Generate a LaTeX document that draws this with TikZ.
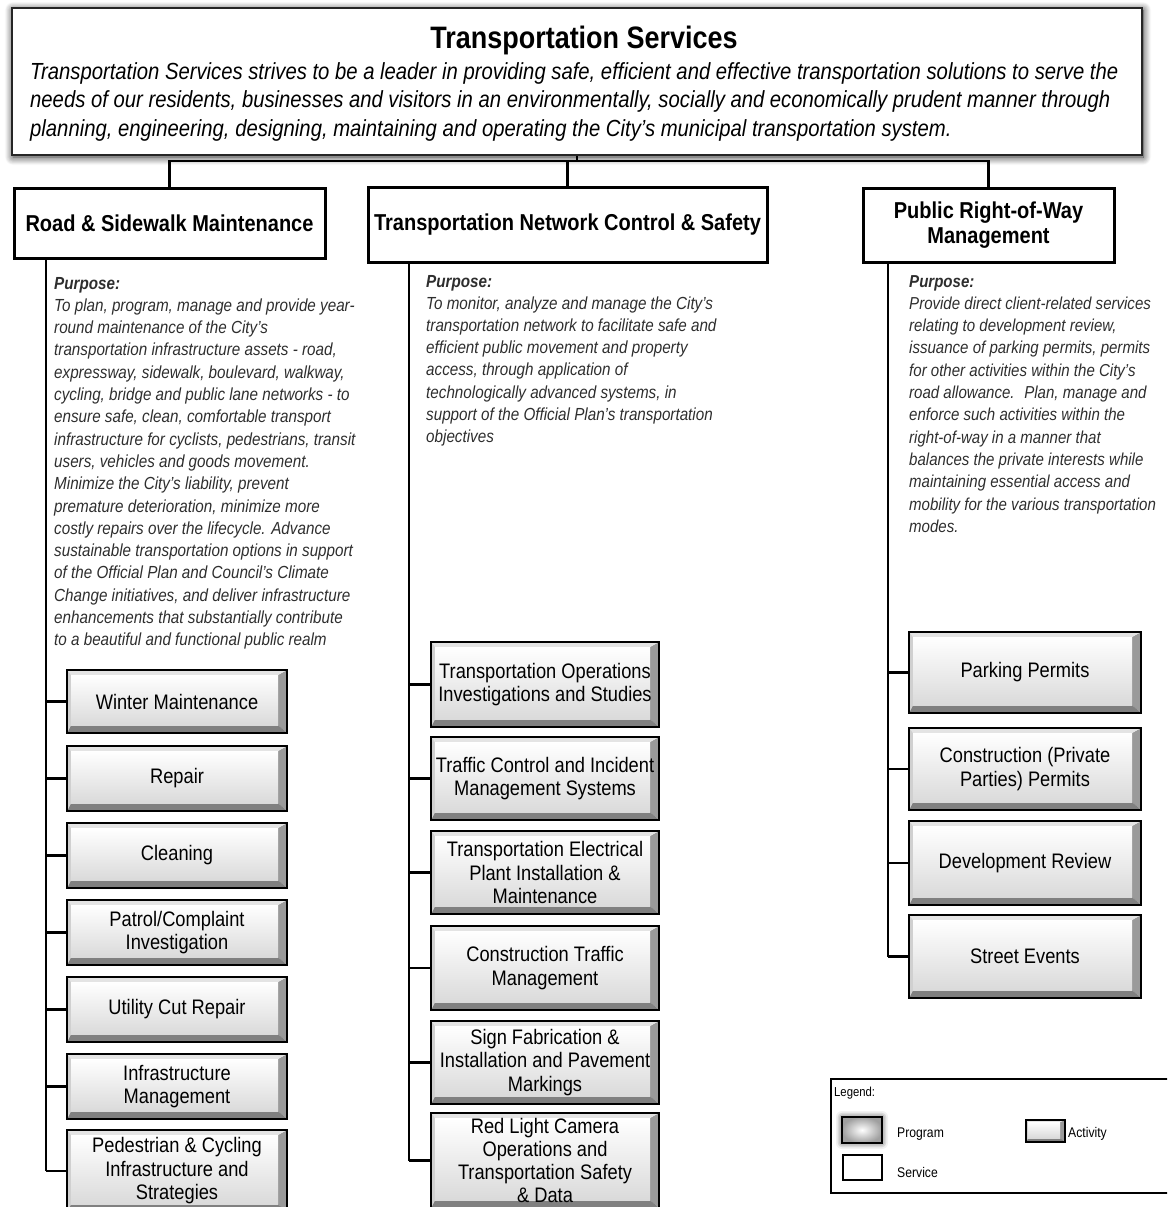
\documentclass[tikz,border=0pt]{standalone}
\usepackage{fontspec}
\setmainfont{Liberation Sans}[FakeStretch=0.87]
\usetikzlibrary{shadows.blur}
\definecolor{bevT}{HTML}{E4E4E4}
\definecolor{bevL}{HTML}{D0D0D0}
\definecolor{bevR}{HTML}{9A9A9A}
\definecolor{bevB}{HTML}{808080}
\definecolor{faceBot}{HTML}{DADADA}
\def\bvl{4pt}\def\bvt{5pt}\def\bvr{9pt}\def\bvb{8pt}
\tikzset{
  conn/.style={line width=2.6pt, black},
  svcbox/.style={draw=black, line width=3pt, fill=white, inner sep=0pt, align=center,
    font=\fontsize{23}{25}\selectfont\bfseries},
  progbox/.style={draw=black!85, line width=2.5pt, fill=white, inner sep=0pt,
    blur shadow={shadow xshift=1pt, shadow yshift=-2pt, shadow blur radius=8pt, shadow blur steps=12, shadow opacity=85}},
  actbox/.style={draw=black, line width=2pt, inner sep=0pt, align=center,
    font=\fontsize{21}{23.5}\selectfont,
    path picture={
      \fill[bevR] (path picture bounding box.north east) -- (path picture bounding box.south east)
        -- ([xshift=-\bvr,yshift=\bvb]path picture bounding box.south east)
        -- ([xshift=-\bvr,yshift=-\bvt]path picture bounding box.north east) -- cycle;
      \fill[bevB] (path picture bounding box.south west) -- (path picture bounding box.south east)
        -- ([xshift=-\bvr,yshift=\bvb]path picture bounding box.south east)
        -- ([xshift=\bvl,yshift=\bvb]path picture bounding box.south west) -- cycle;
      \fill[bevT] (path picture bounding box.north west) -- (path picture bounding box.north east)
        -- ([xshift=-\bvr,yshift=-\bvt]path picture bounding box.north east)
        -- ([xshift=\bvl,yshift=-\bvt]path picture bounding box.north west) -- cycle;
      \fill[bevL] (path picture bounding box.north west) -- (path picture bounding box.south west)
        -- ([xshift=\bvl,yshift=\bvb]path picture bounding box.south west)
        -- ([xshift=\bvl,yshift=-\bvt]path picture bounding box.north west) -- cycle;
      \shade[top color=white, bottom color=faceBot]
        ([xshift=\bvl,yshift=-\bvt]path picture bounding box.north west)
        rectangle ([xshift=-\bvr,yshift=\bvb]path picture bounding box.south east);
    }},
  colA/.style={actbox, minimum width=220pt},
  colB/.style={actbox, minimum width=228pt},
  colC/.style={actbox, minimum width=232pt},
  purp/.style={anchor=base west, inner sep=0pt, text=black!82},
  legtxt/.style={anchor=west, inner sep=0pt, font=\fontsize{14}{16}\selectfont},
}
\begin{document}
\begin{tikzpicture}[x=1pt,y=-1pt]
\useasboundingbox (0,0) rectangle (1167,1207);
\clip (0,0) rectangle (1167,1207);

% Top program box
\node[progbox, minimum width=1130pt, minimum height=147pt] (top) at (577,81.5) {};
\node[inner sep=0pt, font=\fontsize{31}{33}\selectfont\bfseries] (title) at (584,40) {Transportation Services};
\node[anchor=base west, inner sep=0pt] (desc) at (30,80) {\parbox[t]{1120pt}{\fontsize{23.3}{28}\selectfont\itshape\raggedright
Transportation Services strives to be a leader in providing safe, efficient and effective transportation solutions to serve the\\
needs of our residents, businesses and visitors in an environmentally, socially and economically prudent manner through\\
planning, engineering, designing, maintaining and operating the City’s municipal transportation system.}};

% Service boxes
\node[svcbox, minimum width=311pt, minimum height=70pt] (svc1) at (169.5,223) {Road \& Sidewalk Maintenance};
\node[svcbox, minimum width=399pt, minimum height=75pt] (svc2) at (567.5,224.5) {Transportation Network Control \& Safety};
\node[svcbox, minimum width=251pt, minimum height=74pt] (svc3) at (988.5,225) {Public Right-of-Way\\Management};

\coordinate (bus) at (0,161);
\draw[conn] (top.south) -- (top.south |- bus);
\draw[conn] (svc1.north) -- (svc1.north |- bus) -- (svc3.north |- bus) -- (svc3.north);
\draw[conn] (svc2.north) -- (svc2.north |- bus);

% Purpose texts
\node[purp] (p1) at (54,289) {\parbox[t]{330pt}{\fontsize{17.5}{22.3}\selectfont\itshape\raggedright
{\bfseries Purpose:}\\
To plan, program, manage and provide year-\\
round maintenance of the City’s\\
transportation infrastructure assets - road,\\
expressway, sidewalk, boulevard, walkway,\\
cycling, bridge and public lane networks - to\\
ensure safe, clean, comfortable transport\\
infrastructure for cyclists, pedestrians, transit\\
users, vehicles and goods movement.\\
Minimize the City’s liability, prevent\\
premature deterioration, minimize more\\
costly repairs over the lifecycle. Advance\\
sustainable transportation options in support\\
of the Official Plan and Council’s Climate\\
Change initiatives, and deliver infrastructure\\
enhancements that substantially contribute\\
to a beautiful and functional public realm}};

\node[purp] (p2) at (426,287) {\parbox[t]{330pt}{\fontsize{17.5}{22.2}\selectfont\itshape\raggedright
{\bfseries Purpose:}\\
To monitor, analyze and manage the City’s\\
transportation network to facilitate safe and\\
efficient public movement and property\\
access, through application of\\
technologically advanced systems, in\\
support of the Official Plan’s transportation\\
objectives}};

\node[purp] (p3) at (909,287) {\parbox[t]{260pt}{\fontsize{17.3}{22.3}\selectfont\itshape\raggedright
{\bfseries Purpose:}\\
Provide direct client-related services\\
relating to development review,\\
issuance of parking permits, permits\\
for other activities within the City’s\\
road allowance.~ Plan, manage and\\
enforce such activities within the\\
right-of-way in a manner that\\
balances the private interests while\\
maintaining essential access and\\
mobility for the various transportation\\
modes.}};

% Column 1 activities
\node[colA, minimum height=63pt] (a1) at (177,701.5) {Winter Maintenance};
\node[colA, minimum height=65pt] (a2) at (177,778.5) {Repair};
\node[colA, minimum height=65pt] (a3) at (177,855.5) {Cleaning};
\node[colA, minimum height=65pt] (a4) at (177,932.5) {Patrol/Complaint\\Investigation};
\node[colA, minimum height=65pt] (a5) at (177,1009.5) {Utility Cut Repair};
\node[colA, minimum height=65pt] (a6) at (177,1086.5) {Infrastructure\\Management};
\node[colA, minimum height=82pt] (a7) at (177,1171) {Pedestrian \& Cycling\\Infrastructure and\\Strategies};

% Column 2 activities
\node[colB, minimum height=85pt] (b1) at (545,684.5) {Transportation Operations\\Investigations and Studies};
\node[colB, minimum height=83pt] (b2) at (545,778.5) {Traffic Control and Incident\\Management Systems};
\node[colB, minimum height=83pt] (b3) at (545,872.5) {Transportation Electrical\\Plant Installation \&\\Maintenance};
\node[colB, minimum height=84pt] (b4) at (545,968) {Construction Traffic\\Management};
\node[colB, minimum height=83pt] (b5) at (545,1062.5) {Sign Fabrication \&\\Installation and Pavement\\Markings};
\node[colB, minimum height=95pt, font=\fontsize{21}{23}\selectfont] (b6) at (545,1160.5) {Red Light Camera\\Operations and\\Transportation Safety\\\& Data};

% Column 3 activities
\node[colC, minimum height=81pt] (c1) at (1025,672.5) {Parking Permits};
\node[colC, minimum height=82pt] (c2) at (1025,769) {Construction (Private\\Parties) Permits};
\node[colC, minimum height=84pt] (c3) at (1025,863) {Development Review};
\node[colC, minimum height=83pt] (c4) at (1025,956.5) {Street Events};

% Trunks and branches
\coordinate (t1) at (46,258);
\coordinate (t2) at (409,262);
\coordinate (t3) at (888,262);
\draw[conn] (t1) -- (t1 |- a7.west);
\draw[conn] (t2) -- (t2 |- b6.west);
\draw[conn] (t3) -- (t3 |- c4.west);
\foreach \n in {a1,a2,a3,a4,a5,a6,a7} \draw[conn] (t1 |- \n.west) -- (\n.west);
\foreach \n in {b1,b2,b3,b4,b5,b6} \draw[conn] (t2 |- \n.west) -- (\n.west);
\foreach \n in {c1,c2,c3,c4} \draw[conn] (t3 |- \n.west) -- (\n.west);

% Legend
\draw[line width=2pt] (831,1079) rectangle (1175,1193);
\node[anchor=base west, inner sep=0pt, font=\fontsize{13}{15}\selectfont] (lgt) at (834,1096) {Legend:};
\node[draw=black, line width=1.6pt, minimum width=40pt, minimum height=26pt, inner sep=0pt,
  blur shadow={shadow xshift=0pt, shadow yshift=0pt, shadow blur radius=6pt, shadow opacity=80},
  path picture={\shade[inner color=white, outer color=gray!75] (path picture bounding box.south west) rectangle (path picture bounding box.north east);}]
  (lgP) at (862,1130) {};
\node[legtxt] (lgPt) at (897,1134) {Program};
\begin{scope}
\def\bvl{2pt}\def\bvt{2pt}\def\bvr{5pt}\def\bvb{4pt}
\node[actbox, minimum width=39pt, minimum height=22pt] (lgA) at (1045.5,1131) {};
\end{scope}
\node[legtxt] (lgAt) at (1068,1134) {Activity};
\node[draw=black, line width=2.6pt, minimum width=39pt, minimum height=25pt, inner sep=0pt, fill=white] (lgS) at (862.5,1167.5) {};
\node[legtxt] (lgSt) at (897,1172) {Service};
\end{tikzpicture}
\end{document}
